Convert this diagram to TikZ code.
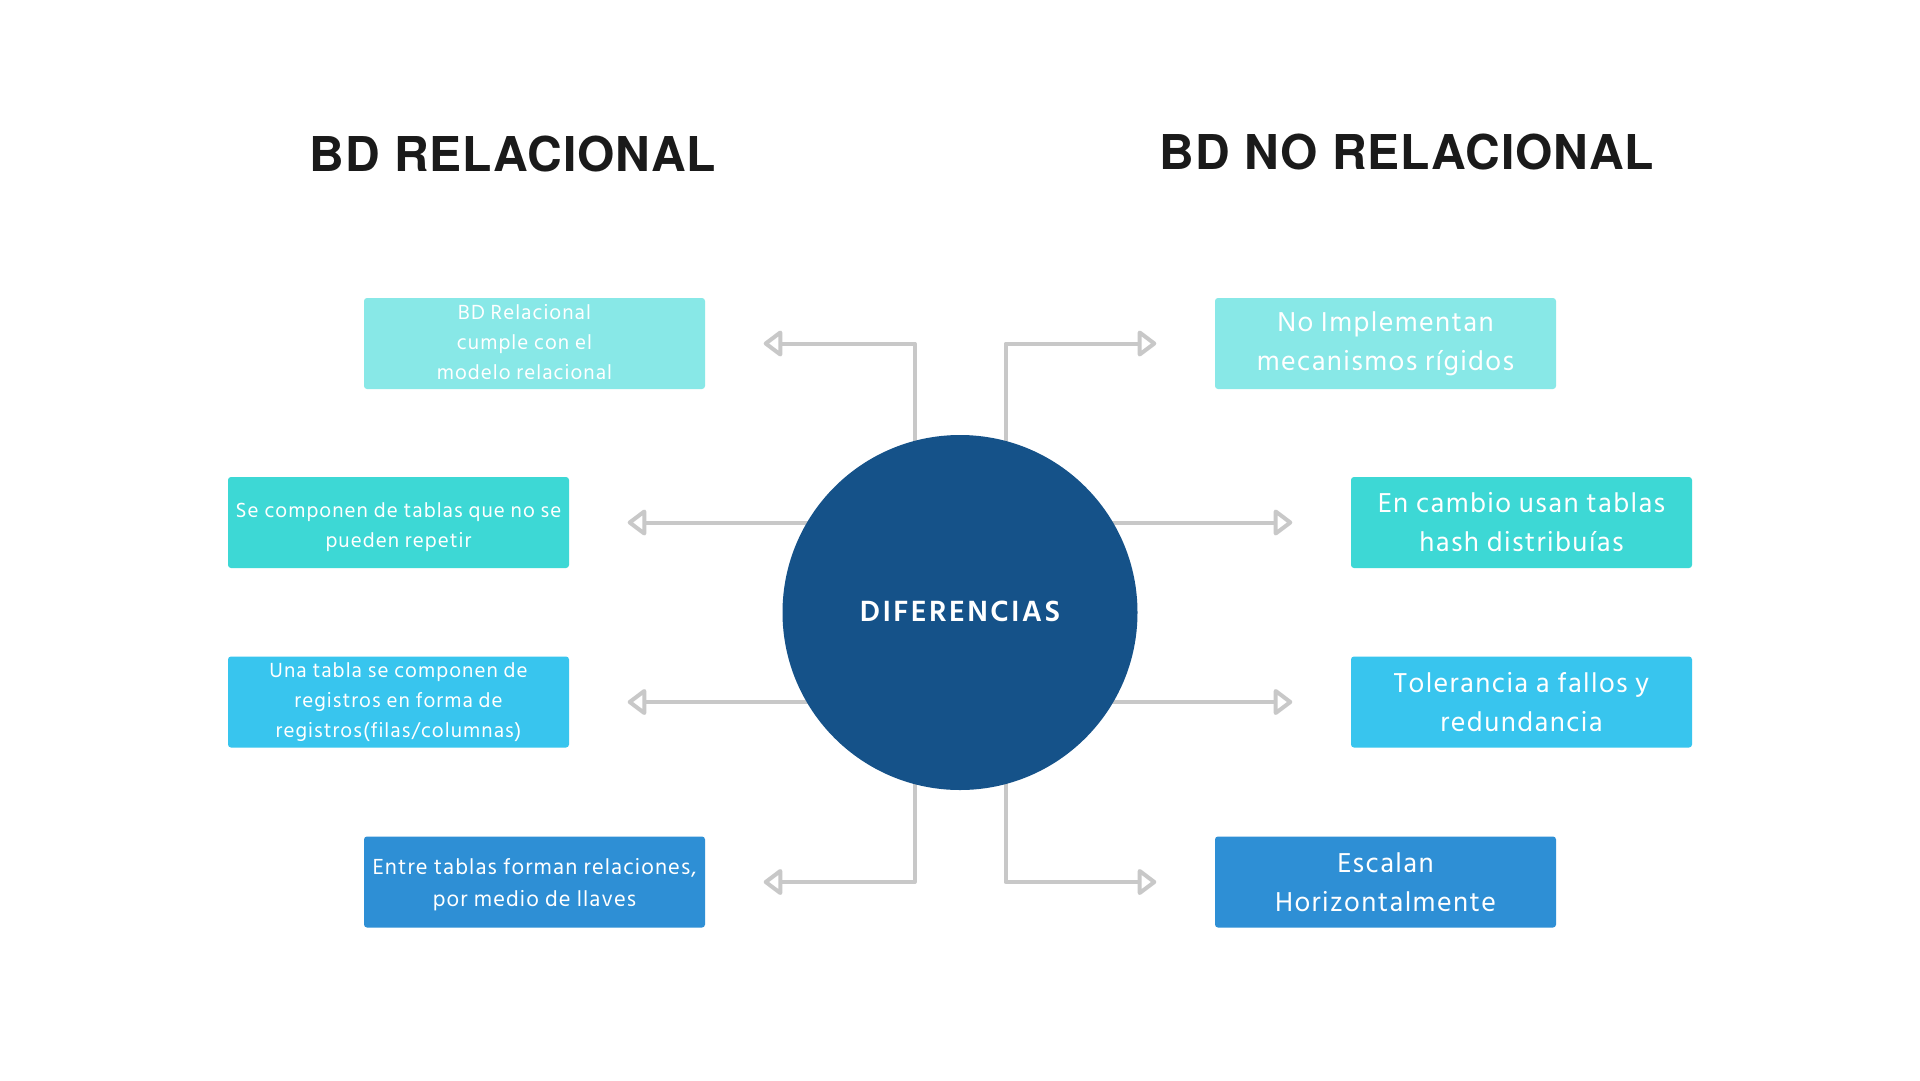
\documentclass[tikz,border=0pt]{standalone}
\usepackage{fontspec}
\setmainfont{Hind Siliguri}[LetterSpace=5]
\newfontfamily\titlefont{TeX Gyre Heros}[LetterSpace=2]
\newfontfamily\circfont{Hind Siliguri}[LetterSpace=8]
\usetikzlibrary{arrows.meta}
\definecolor{cA}{HTML}{88E8E7}
\definecolor{cB}{HTML}{3DD8D5}
\definecolor{cC}{HTML}{38C5EE}
\definecolor{cD}{HTML}{2E8FD5}
\definecolor{circ}{HTML}{155289}
\definecolor{conn}{HTML}{C8C8C8}
\definecolor{ttl}{HTML}{1A1A1A}
\newcommand{\shiftdown}[2]{\raisebox{-#1}[\height][\depth]{#2}}
\tikzset{
  box/.style={rectangle, rounded corners=3pt, minimum width=341pt, minimum height=91pt,
    inner sep=0pt, align=center, text=white},
  smalltxt/.style={font=\fontsize{21}{30}\selectfont},
  midtxt/.style={font=\fontsize{22.4}{32}\selectfont},
  bigtxt/.style={font=\fontsize{28}{39}\selectfont},
  connector/.style={draw=conn, line width=4pt, line join=round,
    -{Triangle[open, round, length=20pt, width=29pt]}},
  title/.style={font=\titlefont\bfseries\fontsize{48}{48}\selectfont, text=ttl, anchor=base, inner sep=0pt}
}
\begin{document}
\begin{tikzpicture}[x=1pt,y=-1pt]
\useasboundingbox[fill=white] (0,0) rectangle (1920,1080);

\node[title] (t1) at (513,171) {BD RELACIONAL};
\node[title] (t2) at (1407,169) {BD NO RELACIONAL};

\node[box, fill=cA, smalltxt] (L1) at (534.5,343.5) {\hspace*{-20pt}\begin{tabular}{@{}c@{}}BD Relacional\\cumple con el\\modelo relacional\end{tabular}};
\node[box, fill=cB, smalltxt] (L2) at (398.5,522.5) {\shiftdown{4pt}{\begin{tabular}{@{}c@{}}Se componen de tablas que no se\\pueden repetir\end{tabular}}};
\node[box, fill=cC, smalltxt] (L3) at (398.5,702) {Una tabla se componen de\\registros en forma de\\registros(filas/columnas)};
\node[box, fill=cD, midtxt] (L4) at (534.5,882) {\shiftdown{2.5pt}{\begin{tabular}{@{}c@{}}Entre tablas forman relaciones,\\por medio de llaves\end{tabular}}};

\node[box, fill=cA, bigtxt] (R1) at (1385.5,343.5) {No Implementan\\mecanismos rígidos};
\node[box, fill=cB, bigtxt] (R2) at (1521.5,522.5) {En cambio usan tablas\\hash distribuías};
\node[box, fill=cC, bigtxt] (R3) at (1521.5,702) {Tolerancia a fallos y\\redundancia};
\node[box, fill=cD, bigtxt] (R4) at (1385.5,882) {Escalan\\Horizontalmente};

\coordinate (c0) at (960,612.5);
\draw[connector] ([xshift=-45.5pt]c0) |- ([xshift=58.5pt]L1.east);
\draw[connector] ([xshift=45.5pt]c0) |- ([xshift=-58.5pt]R1.west);
\draw[connector] (c0 |- L2.east) -- ([xshift=58.5pt]L2.east);
\draw[connector] (c0 |- R2.west) -- ([xshift=-58.5pt]R2.west);
\draw[connector] (c0 |- L3.east) -- ([xshift=58.5pt]L3.east);
\draw[connector] (c0 |- R3.west) -- ([xshift=-58.5pt]R3.west);
\draw[connector] ([xshift=-45.5pt]c0) |- ([xshift=58.5pt]L4.east);
\draw[connector] ([xshift=45.5pt]c0) |- ([xshift=-58.5pt]R4.west);

\node[circle, fill=circ, minimum size=355pt, inner sep=0pt, text=white,
  font=\circfont\bfseries\fontsize{30}{30}\selectfont] (c) at (c0) {\shiftdown{-1.5pt}{DIFERENCIAS}};
\end{tikzpicture}
\end{document}
